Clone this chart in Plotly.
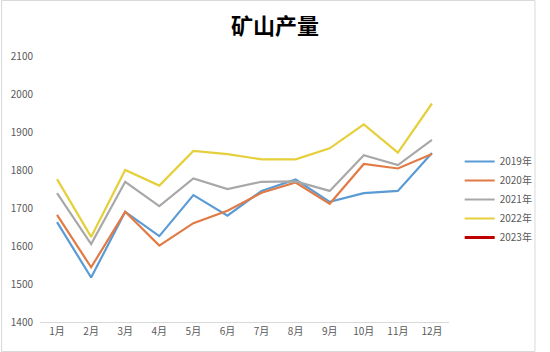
import plotly.graph_objects as go

months = ["1月", "2月", "3月", "4月", "5月", "6月", "7月", "8月", "9月", "10月", "11月", "12月"]
y2019 = [1663, 1517, 1690, 1626, 1734, 1680, 1745, 1775, 1716, 1739, 1745, 1845]
y2020 = [1682, 1544, 1690, 1601, 1660, 1693, 1740, 1767, 1711, 1816, 1804, 1842]
y2021 = [1739, 1605, 1769, 1705, 1778, 1750, 1769, 1770, 1745, 1839, 1813, 1879]
y2022 = [1776, 1624, 1800, 1759, 1850, 1842, 1828, 1828, 1857, 1920, 1846, 1975]
y2023 = [None] * 12
series_names = ["2019年", "2020年", "2021年", "2022年", "2023年"]
colors = ["#5B9BD5", "#E07B45", "#A8A8A8", "#E5CF3A", "#C00000"]
yticks = [1400, 1500, 1600, 1700, 1800, 1900, 2000, 2100]

W, H = 550, 352
L, R, T, B = 40, 89, 56, 30

fig = go.Figure()
for name, vals, c in zip(series_names, [y2019, y2020, y2021, y2022, y2023], colors):
    fig.add_trace(go.Scatter(x=months, y=vals, name=name, mode="lines",
                             line=dict(color=c, width=2.2 if name != "2023年" else 3)))

pw = W - L - R
ph = H - T - B
fig.add_shape(type="rect", xref="paper", yref="paper",
              x0=(0.5 - L) / pw, x1=(W - 0.5 - L) / pw,
              y0=-(B - 0.5) / ph, y1=1 + (T - 0.5) / ph,
              line=dict(color="#D9D9D9", width=1), fillcolor="rgba(0,0,0,0)", layer="below")

fig.update_layout(
    width=W, height=H,
    margin=dict(l=L, r=R, t=T, b=B),
    paper_bgcolor="white", plot_bgcolor="white",
    title=dict(text="<b>矿山产量</b>", x=0.5, xref="container", xanchor="center",
               y=1 - 26 / H, yanchor="middle",
               font=dict(family="Noto Sans CJK SC", size=22, color="#000000")),
    font=dict(family="Noto Sans CJK SC", size=10, color="#595959"),
    showlegend=True,
    legend=dict(x=(472 - L) / pw, xanchor="left", y=1 - (147 - T) / ph, yanchor="top",
                font=dict(size=10, color="#595959"), bgcolor="rgba(0,0,0,0)",
                itemwidth=30, tracegroupgap=0),
    xaxis=dict(type="category", range=[-0.5, 11.5], showgrid=False, showline=True,
               linecolor="#D9D9D9", linewidth=1, ticks="",
               tickfont=dict(size=10, color="#595959"), zeroline=False),
    yaxis=dict(range=[1400, 2100], tickvals=yticks, showgrid=False, showline=False,
               zeroline=False, ticks="", ticklabelstandoff=6,
               tickfont=dict(size=10, color="#595959")),
)

fig.write_html("out.html")
